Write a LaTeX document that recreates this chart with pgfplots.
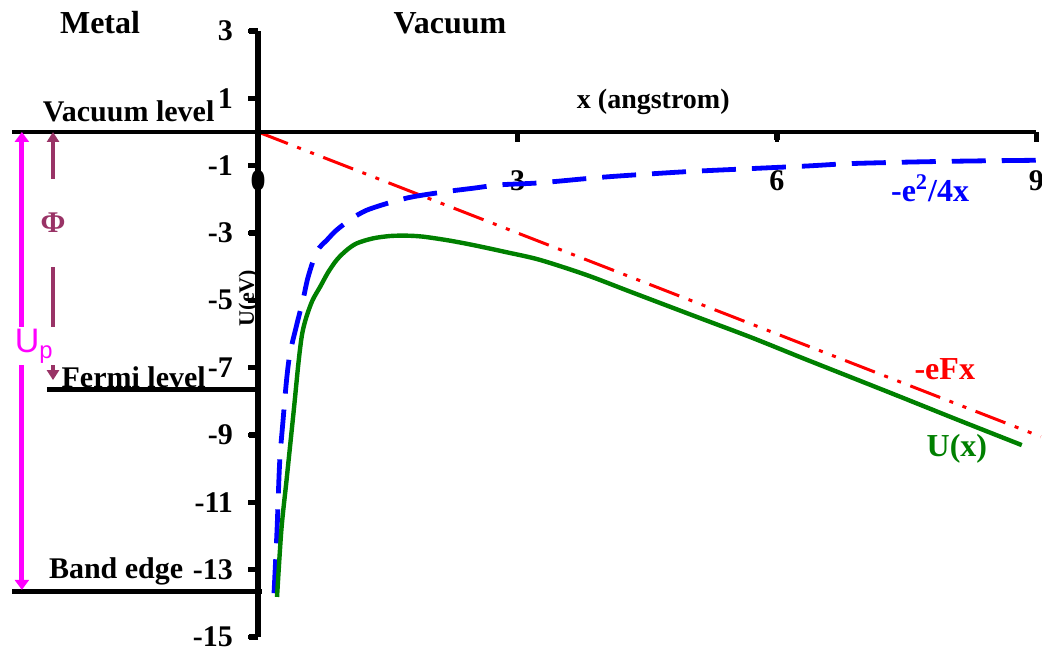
\documentclass[border=0pt]{standalone}
\usepackage{pgfplots}
\pgfplotsset{compat=1.18}
\usepackage{fontspec}
\setmainfont{Liberation Serif}
\setsansfont{Liberation Sans}
\usetikzlibrary{arrows.meta}
\definecolor{cred}{RGB}{255,0,0}
\definecolor{cblue}{RGB}{0,0,255}
\definecolor{cgreen}{RGB}{0,128,0}
\definecolor{cmag}{RGB}{255,0,255}
\definecolor{cpur}{RGB}{153,51,102}
\begin{document}
\begin{tikzpicture}
\begin{axis}[
  x=43.25pt, y=16.835pt,
  xmin=-2.84, xmax=9, ymin=-15, ymax=3,
  axis x line*=middle, axis y line*=middle,
  axis line style={line width=2.3pt, black},
  hide obscured x ticks=false,
  xtick={0,3,6,9}, ytick={-15,-13,...,3},
  tick align=outside, major tick length=5pt,
  tick style={line width=2.3pt, black},
  ticklabel style={font=\bfseries\fontsize{15}{15}\selectfont},
  /pgf/number format/assume math mode=true,
  xticklabel style={yshift=-11pt},
  yticklabel style={xshift=-4pt},
  clip=false,
]
\coordinate (bl) at (axis cs:-2.983,-15.47);
\coordinate (tr) at (axis cs:9.064,3.92);
% -eFx
\addplot[cred, line width=1.5pt, dash pattern=on 16pt off 5pt on 2pt off 5pt on 2pt off 5pt] coordinates {(0,0) (9.05,-9.05)};
% -e^2/4x
\addplot[cblue, line width=2.4pt, dash pattern=on 17pt off 8pt, smooth, tension=0.5] coordinates {
(0.185,-13.7) (0.22,-11.82) (0.25,-9.83) (0.29,-8.55) (0.33,-7.37) (0.37,-6.57) (0.45,-5.7) (0.52,-4.99) (0.58,-4.3) (0.68,-3.55) (0.80,-3.2) (0.91,-2.91) (1.08,-2.58) (1.26,-2.32) (1.56,-2.07) (1.80,-1.92) (2.18,-1.77) (2.49,-1.67) (2.80,-1.57) (3.26,-1.51) (4.0,-1.34) (4.88,-1.19) (5.6,-1.10) (6.35,-1.01) (6.84,-0.94) (7.6,-0.89) (8.3,-0.86) (9.04,-0.84)};
% U(x)
\addplot[cgreen, line width=2.2pt, smooth, tension=0.5] coordinates {
(0.22,-13.81) (0.27,-11.82) (0.33,-10.34) (0.39,-8.85) (0.42,-8.1) (0.47,-6.8) (0.51,-6.0) (0.56,-5.49) (0.63,-5.0) (0.72,-4.59) (0.81,-4.17) (0.91,-3.80) (1.02,-3.52) (1.14,-3.31) (1.33,-3.16) (1.53,-3.09) (1.72,-3.08) (1.91,-3.11) (2.2,-3.22) (2.49,-3.36) (2.87,-3.57) (3.26,-3.80) (3.8,-4.25) (4.30,-4.74) (5.07,-5.49) (5.7,-6.1) (6.3,-6.72) (6.9,-7.33) (7.42,-7.86) (8.1,-8.56) (8.83,-9.30)};
% axis lines and tick marks, drawn heavy
\draw[black, line width=2.3pt] (axis cs:-2.84,0) -- (axis cs:9,0);
\draw[black, line width=2.6pt] (axis cs:0,-15) -- (axis cs:0,3);
\draw[black, line width=2.6pt] (axis cs:3,0) -- (axis cs:3,-0.25);
\draw[black, line width=2.6pt] (axis cs:6,0) -- (axis cs:6,-0.25);
\draw[black, line width=2.6pt] (axis cs:9,0) -- (axis cs:9,-0.25);
\foreach \yy in {-15,-13,-11,-9,-7,-5,-3,-1,1,3} {
  \edef\tmp{\noexpand\draw[black, line width=2.6pt] (axis cs:0,\yy) -- (axis cs:-0.1,\yy);}\tmp
}
% level lines
\draw[black, line width=2.3pt] (axis cs:-2.44,-7.65) -- (axis cs:-0.03,-7.65);
\draw[black, line width=2.3pt] (axis cs:-2.84,-13.65) -- (axis cs:0.05,-13.65);
% arrows
\draw[cmag, line width=2.6pt, {Triangle[width=7pt,length=5pt]}-{Triangle[width=7pt,length=5pt]}] (axis cs:-2.73,0) -- (axis cs:-2.73,-13.6);
\draw[cpur, line width=1.6pt, {Triangle[width=6pt,length=5pt]}-{Triangle[width=6pt,length=5pt]}] (axis cs:-2.37,0) -- (axis cs:-2.37,-7.37);
\node[fill=white, inner sep=0pt, minimum height=44pt, text=cpur, font=\bfseries\fontsize{15}{15}\selectfont] at (axis cs:-2.37,-2.70) {Φ};
\node[fill=white, inner sep=1pt, anchor=base west, text=cmag, font=\sffamily\fontsize{17}{17}\selectfont] at (axis cs:-2.84,-6.56) {U\textsubscript{p}};
% texts
\node[anchor=base west, font=\bfseries\fontsize{16}{16}\selectfont] at (axis cs:-2.37,2.93) {Metal};
\node[anchor=base, font=\bfseries\fontsize{16}{16}\selectfont] at (axis cs:2.22,2.93) {Vacuum};
\node[anchor=base east, inner sep=0pt, font=\bfseries\fontsize{15}{15}\selectfont] at (axis cs:-0.50,0.31) {Vacuum level};
\node[anchor=base east, inner sep=0pt, font=\bfseries\fontsize{15}{15}\selectfont] at (axis cs:-0.60,-7.58) {Fermi level};
\node[anchor=base east, inner sep=0pt, font=\bfseries\fontsize{15}{15}\selectfont] at (axis cs:-0.86,-13.25) {Band edge};
\node[anchor=base, font=\bfseries\fontsize{14}{14}\selectfont] at (axis cs:4.57,0.71) {x (angstrom)};
\node[rotate=90, inner sep=0pt, font=\bfseries\fontsize{11}{11}\selectfont] at (axis cs:-0.11,-4.93) {U(eV)};
\node[anchor=base, text=cblue, font=\bfseries\fontsize{16}{16}\selectfont] at (axis cs:7.77,-2.08) {-e\textsuperscript{2}/4x};
\node[anchor=base, text=cred, font=\bfseries\fontsize{16}{16}\selectfont] at (axis cs:7.94,-7.34) {-eFx};
\node[anchor=base, text=cgreen, font=\bfseries\fontsize{16}{16}\selectfont] at (axis cs:8.08,-9.65) {U(x)};
\end{axis}
\pgfresetboundingbox
\useasboundingbox (bl) rectangle (tr);
\end{tikzpicture}
\end{document}
